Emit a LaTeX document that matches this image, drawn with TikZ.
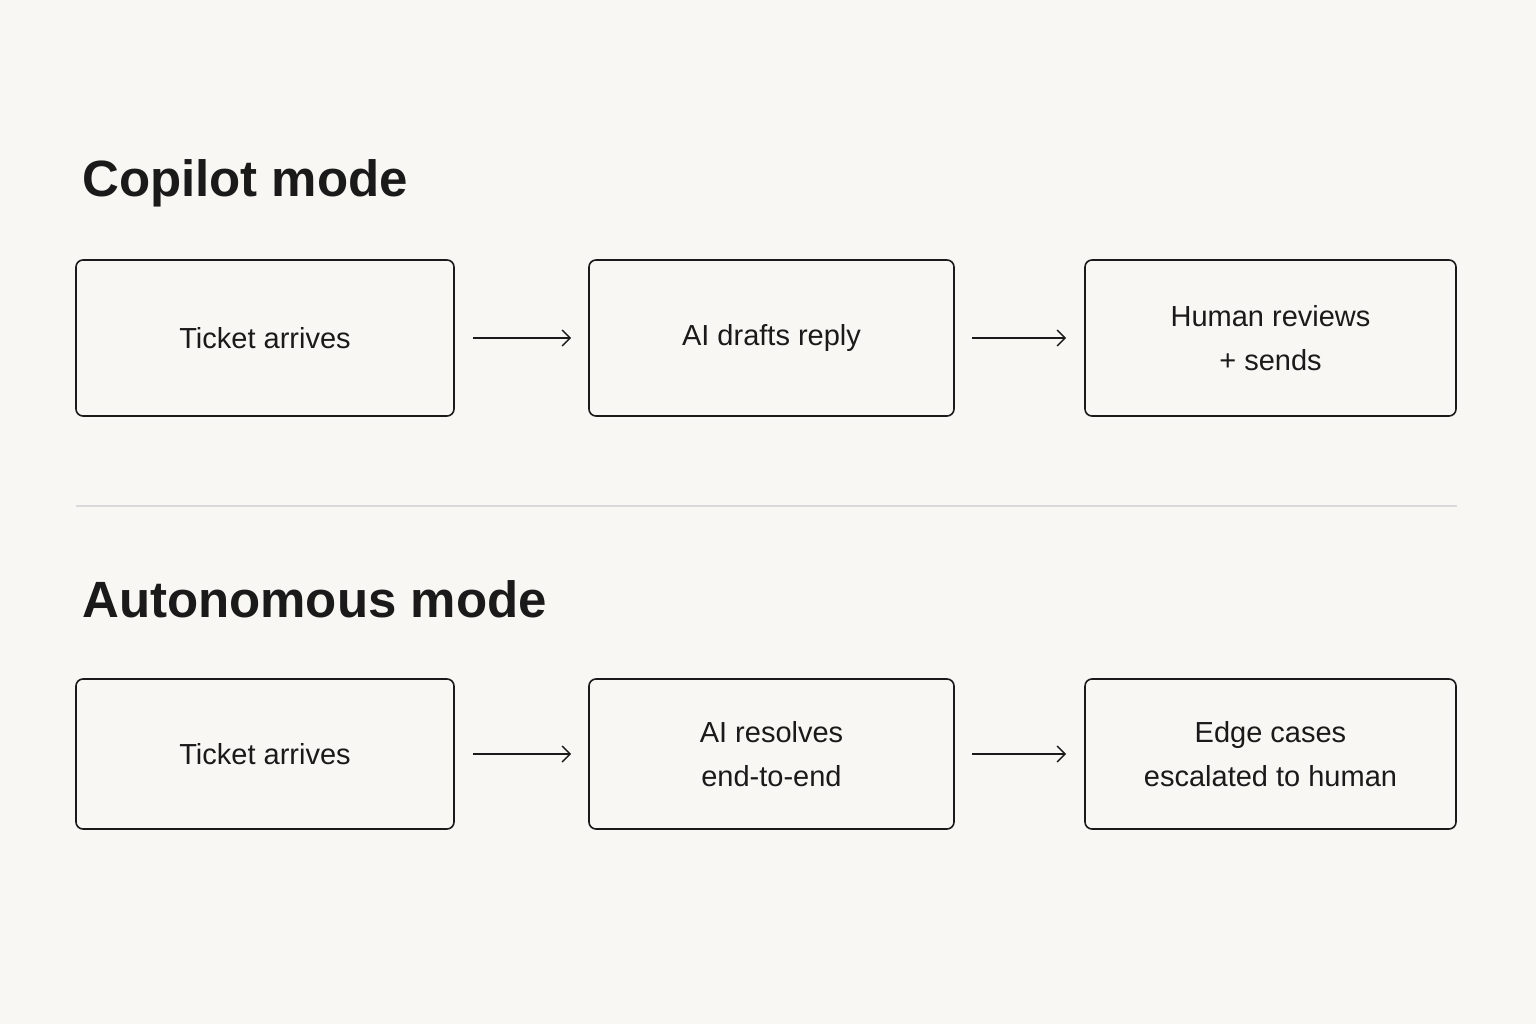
\documentclass[tikz,border=0pt]{standalone}
\usepackage{fontspec}
\setmainfont{Liberation Sans}
\usetikzlibrary{arrows.meta}
\definecolor{bg}{HTML}{F8F7F3}
\definecolor{ink}{HTML}{1A1A1A}
\begin{document}
\begin{tikzpicture}[x=1pt,y=-1pt,
  box/.style={draw=ink,line width=1.6pt,rounded corners=7pt,align=center,inner sep=0pt,
    font=\fontsize{29}{44}\selectfont,text=ink},
  arr/.style={-{Straight Barb[length=8pt,width=16pt]},line width=1.4pt,draw=ink},
  head/.style={anchor=base west,font=\fontsize{51}{60}\selectfont\bfseries,text=ink,inner sep=0pt}]
\fill[bg] (0,0) rectangle (1536,1024);
\useasboundingbox (0,0) rectangle (1536,1024);
\node[head] (h1) at (82,197) {Copilot mode};
\node[head] (h2) at (82,617) {Autonomous mode};
\node[box,minimum width=378pt,minimum height=156pt] (a1) at (265,338) {Ticket arrives};
\node[box,minimum width=365pt,minimum height=156pt] (a2) at (771.5,338) {AI drafts reply};
\node[box,minimum width=371pt,minimum height=156pt] (a3) at (1270.5,338) {Human reviews\\+ sends};
\node[box,minimum width=378pt,minimum height=150pt] (b1) at (265,754) {Ticket arrives};
\node[box,minimum width=365pt,minimum height=150pt] (b2) at (771.5,754) {AI resolves\\end-to-end};
\node[box,minimum width=371pt,minimum height=150pt] (b3) at (1270.5,754) {Edge cases\\escalated to human};
\coordinate (d1) at (76,506); \coordinate (d2) at (1457,506);
\draw[line width=1.2pt,draw=black!15] (d1) -- (d2);
\draw[arr] ([xshift=18pt]a1.east) -- ([xshift=-17pt]a2.west);
\draw[arr] ([xshift=17pt]a2.east) -- ([xshift=-18pt]a3.west);
\draw[arr] ([xshift=18pt]b1.east) -- ([xshift=-17pt]b2.west);
\draw[arr] ([xshift=17pt]b2.east) -- ([xshift=-18pt]b3.west);
\end{tikzpicture}
\end{document}
